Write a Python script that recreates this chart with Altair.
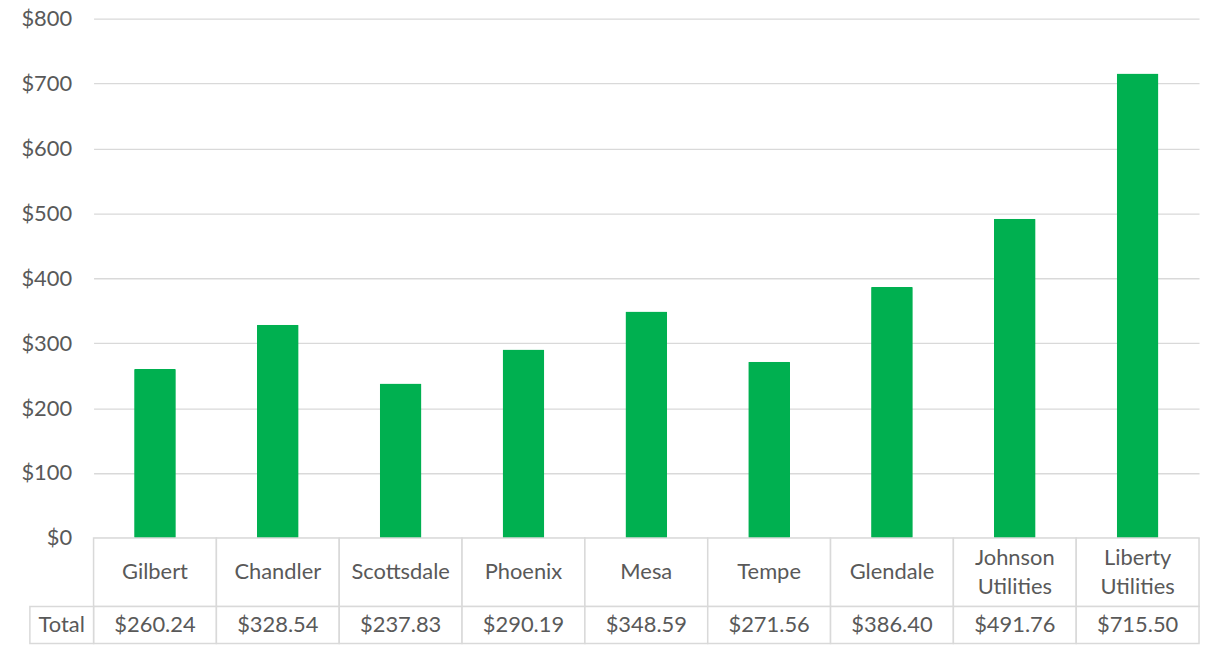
import altair as alt
import pandas as pd

cities = ["Gilbert", "Chandler", "Scottsdale", "Phoenix", "Mesa", "Tempe",
          "Glendale", "Johnson Utilities", "Liberty Utilities"]
table_labels = ["Gilbert", "Chandler", "Scottsdale", "Phoenix", "Mesa", "Tempe",
                "Glendale", "Johnson\nUtilities", "Liberty\nUtilities"]
totals = [260.24, 328.54, 237.83, 290.19, 348.59, 271.56, 386.40, 491.76, 715.50]
y_ticks = [0, 100, 200, 300, 400, 500, 600, 700, 800]
row_name = "Total"

df = pd.DataFrame({"city": cities, "label": table_labels, "total": totals})
total_df = pd.DataFrame({"name": [row_name]})

FONT = "Lato"
FS = 22
TXT = "#595959"
GRID = "#d9d9d9"
GREEN = "#00b050"
PW = 1111
PH = 522
TH = 106
R1 = 69
LH = 29

xbar = alt.X("city:N", sort=cities, axis=None,
             scale=alt.Scale(paddingInner=0.66, paddingOuter=0.33))
bars = alt.Chart(df).mark_bar(color=GREEN, cornerRadius=1).encode(
    x=xbar,
    y=alt.Y("total:Q", scale=alt.Scale(domain=[0, 800], nice=False),
            axis=alt.Axis(values=y_ticks, format="$,.0f", title=None,
                          domain=False, ticks=False, grid=True,
                          gridColor=GRID, gridWidth=1.3,
                          labelFont=FONT, labelFontSize=FS, labelColor=TXT,
                          labelPadding=22)),
).properties(width=PW, height=PH)

xt = alt.X("city:N", sort=cities, axis=None,
           scale=alt.Scale(paddingInner=0, paddingOuter=0))
base = alt.Chart(df)
cells1 = base.mark_rect(fill="white", stroke=GRID, strokeWidth=1.5).encode(
    x=xt, y=alt.value(0), y2=alt.value(R1))
cells2 = base.mark_rect(fill="white", stroke=GRID, strokeWidth=1.5).encode(
    x=xt, y=alt.value(R1), y2=alt.value(TH))
names1 = base.transform_filter("indexof(datum.label, '\\n') < 0").mark_text(
    font=FONT, fontSize=FS, color=TXT, baseline="middle").encode(
    x=xt, y=alt.value(R1 / 2), text="label:N")
names2 = base.transform_filter("indexof(datum.label, '\\n') >= 0").mark_text(
    font=FONT, fontSize=FS, color=TXT, baseline="middle", lineBreak="\n",
    lineHeight=LH, dy=-LH / 2).encode(
    x=xt, y=alt.value(R1 / 2), text="label:N")
vals = base.mark_text(font=FONT, fontSize=FS, color=TXT, baseline="middle").encode(
    x=xt, y=alt.value((R1 + TH) / 2), text=alt.Text("total:Q", format="$,.2f"))
tcell = alt.Chart(total_df).mark_rect(fill="white", stroke=GRID, strokeWidth=1.5).encode(
    x=alt.value(-64), x2=alt.value(0), y=alt.value(R1), y2=alt.value(TH))
ttext = alt.Chart(total_df).mark_text(font=FONT, fontSize=FS, color=TXT,
                                      baseline="middle").encode(
    x=alt.value(-32), y=alt.value((R1 + TH) / 2), text="name:N")

table = alt.layer(cells1, cells2, tcell, names1, names2, vals, ttext).properties(
    width=PW, height=TH)

chart = alt.vconcat(bars, table, spacing=0, bounds="flush").properties(
    padding={"left": 12, "top": -2, "right": 5, "bottom": 0},
    background="white",
).configure_view(stroke=None)

chart.save("out.html", embed_options={"renderer": "svg", "actions": False})
